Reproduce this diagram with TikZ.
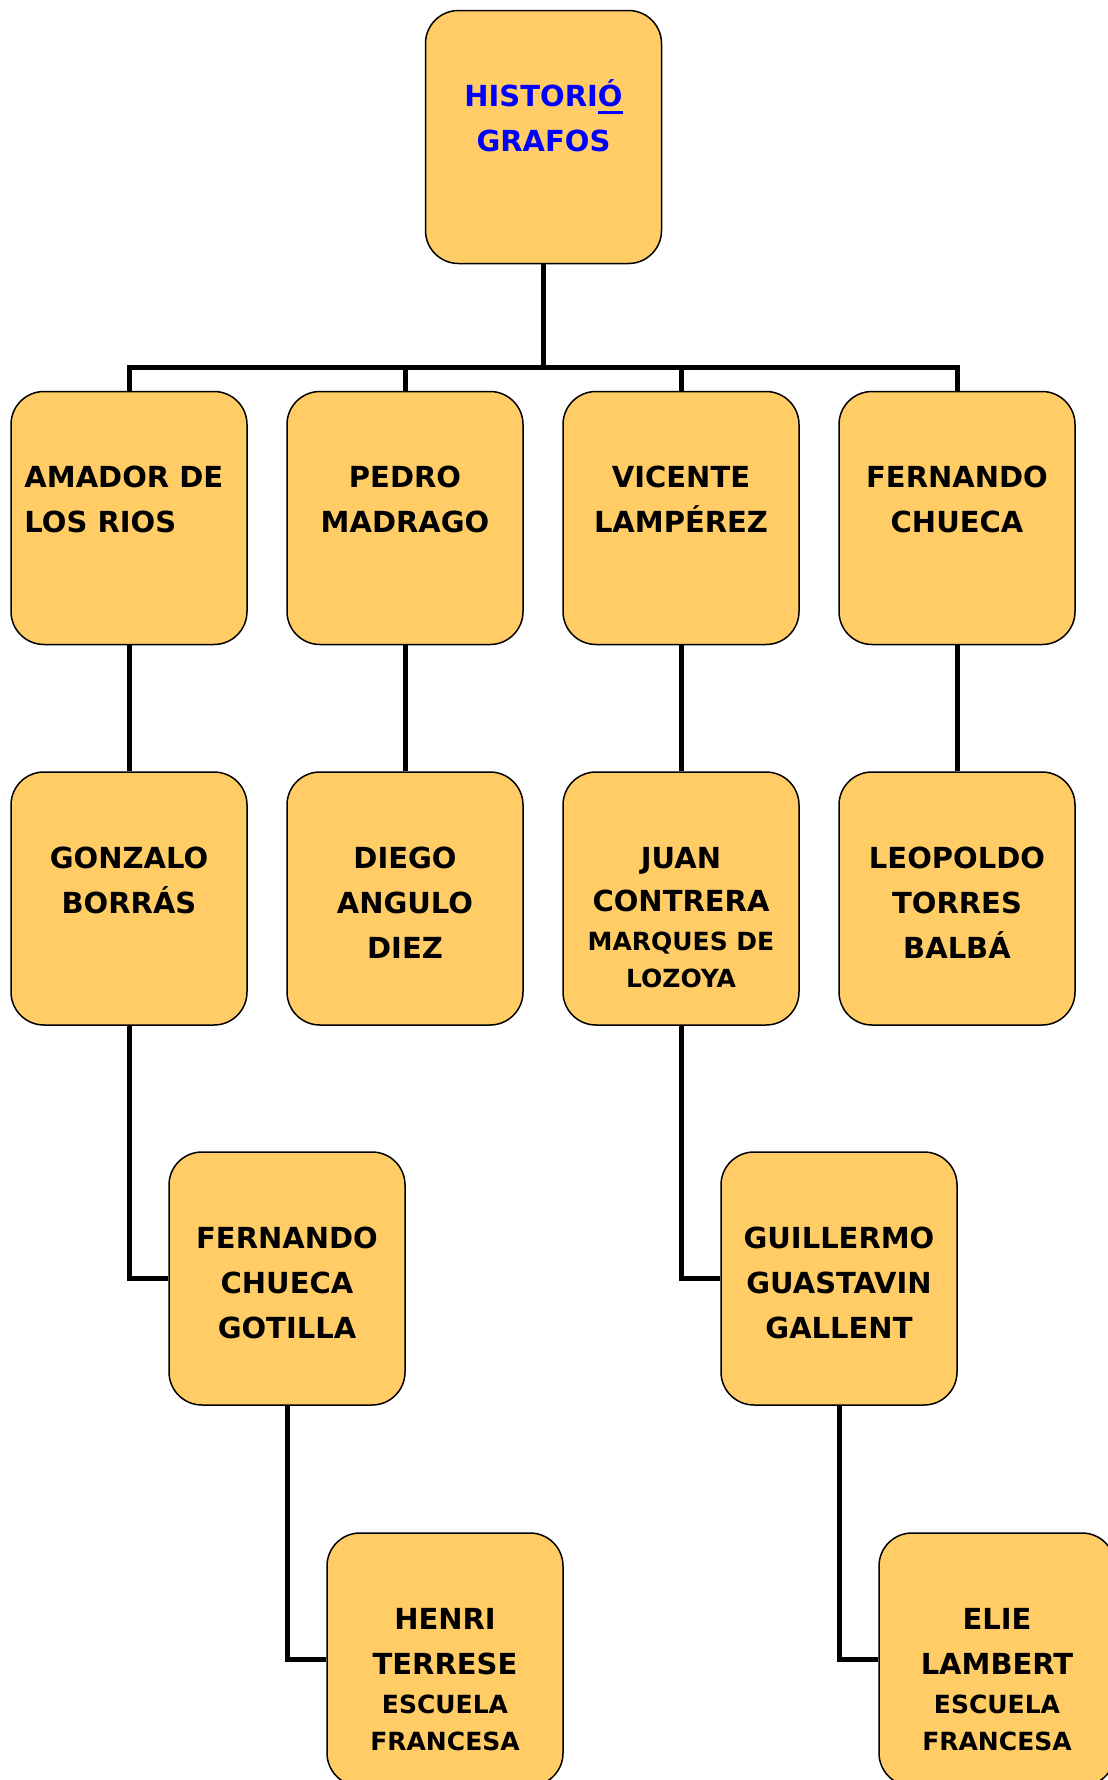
\documentclass[tikz,border=0pt]{standalone}
\usepackage{fontspec}
\setmainfont{DejaVu Sans}
\usetikzlibrary{calc}
\definecolor{boxfill}{HTML}{FFCC66}
\definecolor{titleblue}{HTML}{0000FF}
\newcommand\fst{\rule{0pt}{28pt}}
\newcommand\sml{\fontsize{25}{37}\selectfont}
\newcommand\ulO[1]{\setbox0\hbox{#1}\rlap{\rule[-7pt]{\wd0}{2.5pt}}\box0}
\begin{document}
\begin{tikzpicture}[x=1pt,y=-1pt,
  box/.style={draw=black, line width=1.5pt, fill=boxfill, rounded corners=33pt,
    minimum width=236pt, minimum height=253pt, inner sep=0pt},
  conn/.style={line width=5pt, line join=miter},
  lbl/.style={anchor=north, inner sep=0pt, align=center,
    font=\fontsize{29}{45}\selectfont\bfseries}]
\useasboundingbox (0,0) rectangle (1108,1780);
\clip (0,0) rectangle (1108,1780);
% boxes
\node[box] (top) at (543.5,137) {};
\node[box] (a1) at (129,518) {};
\node[box] (a2) at (405,518) {};
\node[box] (a3) at (681,518) {};
\node[box] (a4) at (957,518) {};
\node[box] (b1) at (129,898.5) {};
\node[box] (b2) at (405,898.5) {};
\node[box] (b3) at (681,898.5) {};
\node[box] (b4) at (957,898.5) {};
\node[box] (c1) at (287,1278.5) {};
\node[box] (c2) at (839,1278.5) {};
\node[box] (d1) at (445,1659.5) {};
\node[box] (d2) at (997,1659.5) {};
\coordinate (bus) at (543.5,367);
% connectors
\draw[conn] (top.south) -- (bus);
\draw[conn] (a1.north) |- (bus);
\draw[conn] (a4.north) |- (bus);
\draw[conn] (a2.north) -- (a2.north |- bus);
\draw[conn] (a3.north) -- (a3.north |- bus);
\draw[conn] (a1.south) -- (b1.north);
\draw[conn] (a2.south) -- (b2.north);
\draw[conn] (a3.south) -- (b3.north);
\draw[conn] (a4.south) -- (b4.north);
\draw[conn] (b1.south) |- (c1.west);
\draw[conn] (c1.south) |- (d1.west);
\draw[conn] (b3.south) |- (c2.west);
\draw[conn] (c2.south) |- (d2.west);
% labels
\node[lbl, text=titleblue] (t0) at ($(top.north)+(0,69)$) {\fst HISTORI\ulO{Ó}\\GRAFOS};
\node[lbl, anchor=north west, align=left] (ta1) at ($(a1.north west)+(14,69)$) {\fst AMADOR DE\\LOS RIOS};
\node[lbl] (ta2) at ($(a2.north)+(0,69)$) {\fst PEDRO\\MADRAGO};
\node[lbl] (ta3) at ($(a3.north)+(0,69)$) {\fst VICENTE\\LAMPÉREZ};
\node[lbl] (ta4) at ($(a4.north)+(0,69)$) {\fst FERNANDO\\CHUECA};
\node[lbl] (tb1) at ($(b1.north)+(0,69)$) {\fst GONZALO\\BORRÁS};
\node[lbl] (tb2) at ($(b2.north)+(0,69)$) {\fst DIEGO\\ANGULO\\DIEZ};
\node[lbl] (tb3) at ($(b3.north)+(0,69)$) {\fst JUAN\\[-2pt]CONTRERA\\[-6pt]{\sml MARQUES DE}\\[-8pt]{\sml LOZOYA}};
\node[lbl] (tb4) at ($(b4.north)+(0,69)$) {\fst LEOPOLDO\\TORRES\\BALBÁ};
\node[lbl] (tc1) at ($(c1.north)+(0,69)$) {\fst FERNANDO\\CHUECA\\GOTILLA};
\node[lbl] (tc2) at ($(c2.north)+(0,69)$) {\fst GUILLERMO\\GUASTAVIN\\GALLENT};
\node[lbl] (td1) at ($(d1.north)+(0,69)$) {\fst HENRI\\TERRESE\\[-6pt]{\sml ESCUELA}\\[-8pt]{\sml FRANCESA}};
\node[lbl] (td2) at ($(d2.north)+(0,69)$) {\fst ELIE\\LAMBERT\\[-6pt]{\sml ESCUELA}\\[-8pt]{\sml FRANCESA}};
\end{tikzpicture}
\end{document}
